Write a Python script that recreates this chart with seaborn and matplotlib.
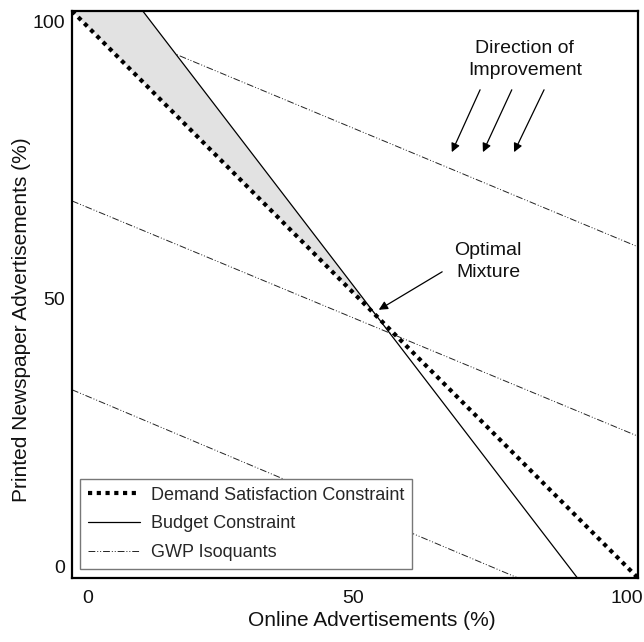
import numpy as np
import pandas as pd
import matplotlib
matplotlib.use("Agg")
import matplotlib.pyplot as plt
from matplotlib.transforms import ScaledTranslation
import seaborn as sns

# Constraint lines (percent shares of the advertising mix)
demand_x = [0, 100]
demand_y = [100, 0]
budget_x = [12.5, 89.3]
budget_y = [100, 0]

# GWP isoquants
iso_top_x = [0, 100]
iso_top_y = [100, 58.4]
iso_mid_x = [0, 100]
iso_mid_y = [66.5, 25.0]
iso_low_x = [0, 78.8]
iso_low_y = [33.2, 0]

tick_vals = [0, 50, 100]
tick_labels = ["0", "50", "100"]

sns.set_style("white")
plt.rcParams["font.family"] = ["Liberation Sans", "DejaVu Sans"]

fig = plt.figure(figsize=(6.44, 6.42), dpi=100)
ax = fig.add_axes([0.1118, 0.0997, 0.8789, 0.8832])

# Feasible wedge between the demand and budget constraints
slope_b = (budget_y[0] - budget_y[1]) / (budget_x[1] - budget_x[0])
xi = slope_b * budget_x[0] / (slope_b - 1)
fx = np.linspace(0, xi, 200)
f_dem = np.interp(fx, demand_x, demand_y)
f_bud = np.minimum(100, np.interp(fx, budget_x, budget_y, left=100))
ax.fill_between(fx, f_dem, f_bud, color="#e2e2e2", lw=0, zorder=2.5)

iso_style = dict(color="#222222", lw=0.7, dashes=(7, 2, 1, 2, 1, 2))
sns.lineplot(x=iso_top_x, y=iso_top_y, ax=ax, label="GWP Isoquants",
             zorder=2, **iso_style)
sns.lineplot(x=iso_mid_x, y=iso_mid_y, ax=ax, zorder=2, **iso_style)
sns.lineplot(x=iso_low_x, y=iso_low_y, ax=ax, zorder=2, **iso_style)

sns.lineplot(x=budget_x, y=budget_y, ax=ax, color="black", lw=0.9,
             label="Budget Constraint", zorder=3)
sns.lineplot(x=demand_x, y=demand_y, ax=ax, color="black", lw=3.0,
             dashes=(1, 1.1), dash_capstyle="butt",
             label="Demand Satisfaction Constraint", zorder=4)

ax.set_xlim(0, 100)
ax.set_ylim(0, 100)
ax.set_xticks(tick_vals)
ax.set_xticklabels(tick_labels)
ax.set_yticks(tick_vals)
ax.set_yticklabels(tick_labels)
ax.tick_params(length=0, labelsize=14, colors="#111111")
ax.tick_params(axis="x", pad=9)
ax.tick_params(axis="y", pad=5)
for sp in ax.spines.values():
    sp.set_color("black")
    sp.set_linewidth(1.6)

# Nudge the end labels inward, away from the frame corners
for lbl, dx in zip(ax.get_xticklabels(), [16, -2, -11]):
    lbl.set_transform(lbl.get_transform() + ScaledTranslation(dx / 100, 0, fig.dpi_scale_trans))
for lbl, dy in zip(ax.get_yticklabels(), [11, -4, -11]):
    lbl.set_transform(lbl.get_transform() + ScaledTranslation(0, dy / 100, fig.dpi_scale_trans))

ax.set_xlabel("Online Advertisements (%)", fontsize=15, color="#111111")
ax.set_ylabel("Printed Newspaper Advertisements (%)", fontsize=15, color="#111111")
ax.xaxis.set_label_coords(0.53, -0.058)
ax.yaxis.set_label_coords(-0.073, 0.455)

# Annotations
ax.text(80, 91.5, "Direction of\nImprovement", ha="center", va="center",
        fontsize=14, linespacing=1.4, color="#111111")
arrow_kw = dict(arrowstyle="-|>", color="black", lw=0.9,
                mutation_scale=13, shrinkA=0, shrinkB=0)
for x0, x1 in [(72.1, 67.1), (77.7, 72.6), (83.4, 78.1)]:
    ax.annotate("", xy=(x1, 75.1), xytext=(x0, 86.1), arrowprops=arrow_kw)

ax.text(73.5, 55.8, "Optimal\nMixture", ha="center", va="center",
        fontsize=14, linespacing=1.35, color="#111111")
ax.annotate("", xy=(54.2, 47.3), xytext=(65.4, 54.0), arrowprops=arrow_kw)

handles, labels = ax.get_legend_handles_labels()
order = [2, 1, 0]
leg = ax.legend([handles[i] for i in order], [labels[i] for i in order],
                loc="lower left", bbox_to_anchor=(0.014, 0.016),
                fontsize=13, frameon=True, fancybox=False, framealpha=1,
                edgecolor="#777777", handlelength=2.9, borderpad=0.42,
                labelspacing=0.66, handletextpad=0.6, borderaxespad=0)
leg.get_frame().set_linewidth(1.0)

fig.savefig("out.png", dpi=100)
